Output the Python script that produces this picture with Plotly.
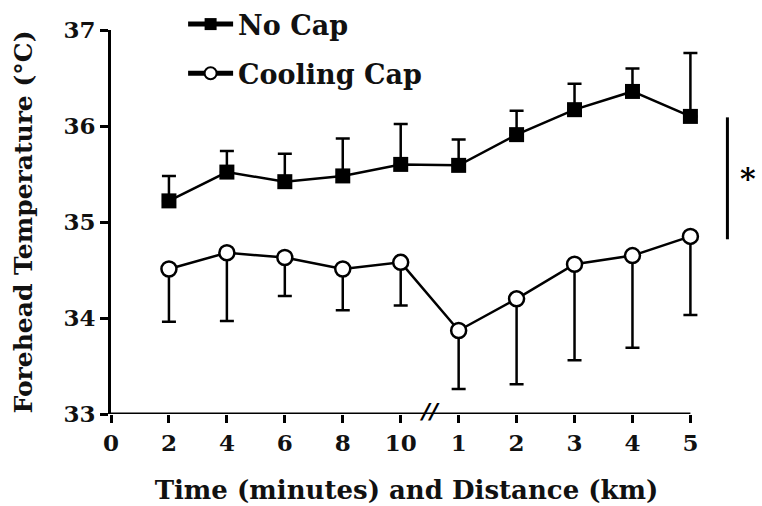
import plotly.graph_objects as go

# positions on the axis: 0..5 for minutes 0..10, 6..10 for km 1..5
x_pos = [1, 2, 3, 4, 5, 6, 7, 8, 9, 10]
tick_vals = [0, 1, 2, 3, 4, 5, 6, 7, 8, 9, 10]
tick_text = ["0", "2", "4", "6", "8", "10", "1", "2", "3", "4", "5"]

no_cap = [35.22, 35.52, 35.42, 35.48, 35.60, 35.59, 35.91, 36.17, 36.36, 36.10]
no_cap_err = [0.26, 0.22, 0.29, 0.39, 0.42, 0.27, 0.25, 0.27, 0.24, 0.66]

cool_cap = [34.51, 34.68, 34.63, 34.51, 34.58, 33.87, 34.20, 34.56, 34.65, 34.85]
cool_cap_err = [0.55, 0.71, 0.40, 0.43, 0.45, 0.61, 0.89, 1.00, 0.96, 0.82]

FONT = "DejaVu Serif"
TXT = "#111111"
XMAX = 10.2  # small room right of the last point so its error bar is not clipped

fig = go.Figure()
fig.add_trace(go.Scatter(
    x=x_pos, y=no_cap, name="No Cap", mode="lines+markers",
    line=dict(color="black", width=2.5),
    marker=dict(symbol="square", size=15, color="black"),
    error_y=dict(type="data", symmetric=False, array=no_cap_err,
                 arrayminus=[0] * len(no_cap_err), color="black",
                 thickness=2.5, width=7),
    cliponaxis=False, legendgroup="a", showlegend=True,
))
fig.add_trace(go.Scatter(
    x=x_pos, y=cool_cap, name="Cooling Cap", mode="lines+markers",
    line=dict(color="black", width=2.5),
    marker=dict(symbol="circle", size=15, color="white",
                line=dict(color="black", width=2.5)),
    error_y=dict(type="data", symmetric=False, array=[0] * len(cool_cap_err),
                 arrayminus=cool_cap_err, color="black",
                 thickness=2.5, width=7),
    cliponaxis=False, legendgroup="b", showlegend=True,
))

axis_common = dict(
    linecolor="black", linewidth=3, automargin=False,
    ticks="outside", ticklen=8, tickwidth=2.5, tickcolor="black",
    showgrid=False, zeroline=False,
    tickfont=dict(family=FONT, size=23, color=TXT, weight="bold"),
)

fig.update_layout(
    width=762, height=506,
    margin=dict(l=111, r=60, t=30, b=92, autoexpand=False),
    paper_bgcolor="white", plot_bgcolor="white",
    font=dict(family=FONT, color=TXT),
    showlegend=True,
    xaxis=dict(range=[0, XMAX], tickvals=tick_vals, ticktext=tick_text,
               showline=False,
               title=dict(text="Time (minutes) and Distance (km)",
                          font=dict(family=FONT, size=26, color=TXT, weight="bold"),
                          standoff=26),
               **axis_common),
    yaxis=dict(range=[33, 37], tickvals=[33, 34, 35, 36, 37], showline=True,
               title=dict(text="Forehead Temperature (°C)",
                          font=dict(family=FONT, size=25, color=TXT, weight="bold"),
                          standoff=24),
               **axis_common),
    legend=dict(x=0.122, y=1.078, xanchor="left", yanchor="top",
                traceorder="grouped", tracegroupgap=11, itemwidth=45,
                font=dict(family=FONT, size=27, color=TXT, weight="bold"),
                bgcolor="rgba(0,0,0,0)", itemsizing="constant"),
)

# x axis line ends at the last tick (5 km)
fig.add_shape(type="line", xref="x", yref="y", x0=0, x1=10, y0=33, y1=33,
              line=dict(color="black", width=3), layer="above")

# axis break mark
fig.add_annotation(x=5.5, y=33, xref="x", yref="y", text="<b><i>//</i></b>",
                   showarrow=False, yshift=3,
                   font=dict(family="DejaVu Sans", size=22, color="black"))

# significance bar and asterisk
fig.add_shape(type="line", xref="paper", yref="y", x0=1.043, x1=1.043,
              y0=34.82, y1=36.09, line=dict(color="black", width=3))
fig.add_annotation(xref="paper", yref="y", x=1.094, y=35.45, text="*",
                   showarrow=False,
                   font=dict(family=FONT, size=30, color="black", weight="bold"))

fig.write_html("out.html")
